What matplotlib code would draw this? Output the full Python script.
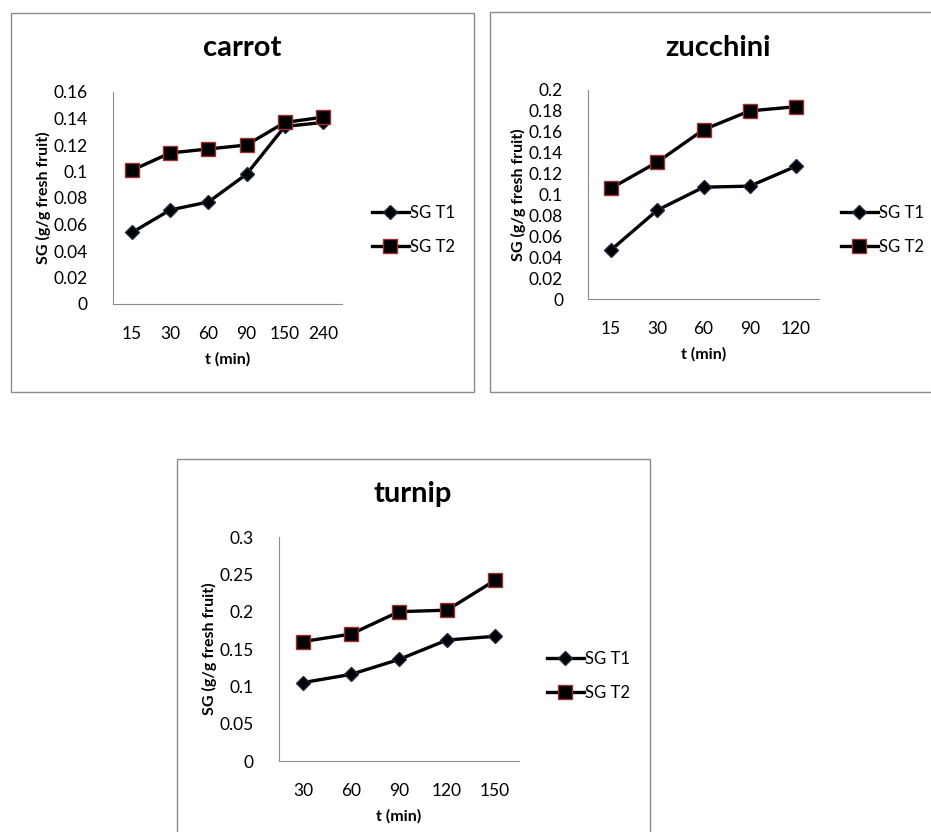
import matplotlib.pyplot as plt
from matplotlib.patches import Rectangle

plt.rcParams['font.family'] = ['Lato', 'DejaVu Sans']

# carrot
carrot_t = ['15', '30', '60', '90', '150', '240']
carrot_t1 = [0.054, 0.071, 0.077, 0.098, 0.134, 0.137]
carrot_t2 = [0.101, 0.114, 0.117, 0.120, 0.137, 0.141]

# zucchini
zucchini_t = ['15', '30', '60', '90', '120']
zucchini_t1 = [0.047, 0.085, 0.107, 0.108, 0.127]
zucchini_t2 = [0.106, 0.131, 0.162, 0.180, 0.184]

# turnip
turnip_t = ['30', '60', '90', '120', '150']
turnip_t1 = [0.105, 0.116, 0.136, 0.162, 0.167]
turnip_t2 = [0.160, 0.170, 0.200, 0.202, 0.242]

W, H = 931, 832
fig = plt.figure(figsize=(W / 100, H / 100), dpi=100)


def px_axes(l, t, r, b):
    return fig.add_axes([l / W, 1 - b / H, (r - l) / W, (b - t) / H])


def frame(l, t, r, b):
    fig.patches.append(Rectangle((l / W, 1 - b / H), (r - l) / W, (b - t) / H,
                                 transform=fig.transFigure, fill=False,
                                 edgecolor='#8c8c8c', linewidth=1))


def panel(box, cats, t1, t2, ymax, ystep, title, title_xy, leg_xy):
    ax = px_axes(*box)
    x = range(len(cats))
    ax.plot(x, t1, color='black', lw=2.4, marker='D', ms=7.5,
            mfc='black', mec='#1f2a44', label='SG T1')
    ax.plot(x, t2, color='black', lw=2.4, marker='s', ms=10.5,
            mfc='black', mec='#a03030', label='SG T2')
    ax.set_xlim(-0.5, len(cats) - 0.5)
    ax.set_ylim(0, ymax)
    ticks = [i * ystep for i in range(int(round(ymax / ystep)) + 1)]
    ax.set_yticks(ticks)
    ax.set_yticklabels([('%.2f' % v).rstrip('0').rstrip('.') for v in ticks], fontsize=12.5)
    ax.set_xticks(list(x))
    ax.set_xticklabels(cats, fontsize=12.5)
    ax.tick_params(axis='y', length=0, pad=18)
    ax.tick_params(axis='x', length=0, pad=16)
    for s in ['top', 'right']:
        ax.spines[s].set_visible(False)
    for s in ['left', 'bottom']:
        ax.spines[s].set_color('#8c8c8c')
    ax.set_xlabel('t (min)', fontsize=11.5, fontweight='bold', labelpad=7)
    ax.set_ylabel('SG (g/g fresh fruit)', fontsize=11.5, fontweight='bold', labelpad=2)
    fig.text(title_xy[0] / W, 1 - title_xy[1] / H, title, fontsize=21,
             fontweight='bold', ha='center', va='center')
    ax.legend(loc='center left', bbox_to_anchor=(leg_xy[0] / W, 1 - leg_xy[1] / H),
              bbox_transform=fig.transFigure, frameon=False, fontsize=12,
              handlelength=2.2, handletextpad=0.1, labelspacing=1.1,
              borderpad=0, borderaxespad=0)
    return ax


frame(11, 13, 474, 392)
frame(490, 12, 945, 392)
frame(177, 459, 650, 845)

panel((113, 92, 342, 304), carrot_t, carrot_t1, carrot_t2, 0.16, 0.02,
      'carrot', (242, 48), (372, 230))
panel((588, 90, 819, 299), zucchini_t, zucchini_t1, zucchini_t2, 0.2, 0.02,
      'zucchini', (718, 48), (841, 230))
panel((279, 537, 519, 761), turnip_t, turnip_t1, turnip_t2, 0.3, 0.05,
      'turnip', (413, 494), (547, 676))

fig.savefig('out.png', dpi=100)
